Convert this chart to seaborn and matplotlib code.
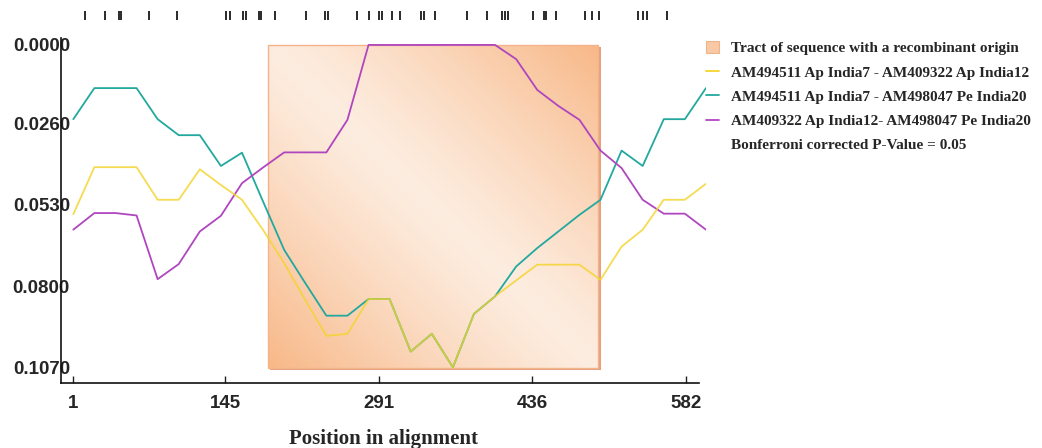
import numpy as np
import pandas as pd
import matplotlib
matplotlib.use("Agg")
import matplotlib.pyplot as plt
import seaborn as sns
from matplotlib.patches import Rectangle, Patch
from matplotlib.lines import Line2D

sns.set_style("ticks")
plt.rcParams['font.family'] = ['Liberation Sans', 'DejaVu Sans']

# window centres along the alignment
positions = [1, 21, 41, 61, 81, 101, 121, 141, 161, 181, 201, 221, 241, 261, 281, 301,
             321, 341, 361, 381, 401, 421, 441, 461, 481, 501, 521, 541, 561, 581, 601]

# pairwise distances for the three sequence pairs
pair_a = [0.0561, 0.0405, 0.0405, 0.0405, 0.0513, 0.0513, 0.0412, 0.0464, 0.0513, 0.0613,
          0.0723, 0.0845, 0.0964, 0.0957, 0.0842, 0.0842, 0.1016, 0.0957, 0.1068, 0.0891,
          0.0833, 0.0780, 0.0728, 0.0728, 0.0728, 0.0778, 0.0668, 0.0612, 0.0513, 0.0513, 0.0460]
pair_b = [0.0246, 0.0143, 0.0143, 0.0143, 0.0246, 0.0299, 0.0299, 0.0401, 0.0357, 0.0519,
          0.0679, 0.0789, 0.0897, 0.0897, 0.0842, 0.0842, 0.1016, 0.0957, 0.1068, 0.0891,
          0.0833, 0.0734, 0.0673, 0.0618, 0.0563, 0.0513, 0.0350, 0.0401, 0.0246, 0.0246, 0.0143]
pair_c = [0.0612, 0.0557, 0.0557, 0.0565, 0.0776, 0.0726, 0.0618, 0.0566, 0.0458, 0.0406,
          0.0356, 0.0356, 0.0356, 0.0248, 0.0000, 0.0000, 0.0000, 0.0000, 0.0000, 0.0000,
          0.0000, 0.0047, 0.0149, 0.0202, 0.0248, 0.0350, 0.0408, 0.0513, 0.0559, 0.0559, 0.0612]

labels = ['AM494511 Ap India7 - AM409322 Ap India12',
          'AM494511 Ap India7 - AM498047 Pe India20',
          'AM409322 Ap India12- AM498047 Pe India20']
colors = ['#f4d42c', '#22a89e', '#b046bf']

# informative sites shown along the top
sites = [12, 31, 44, 46, 73, 99, 146, 150, 162, 165, 177, 179, 192, 222, 240, 243, 270, 281,
         291, 294, 303, 311, 331, 334, 344, 374, 393, 408, 410, 413, 437, 447, 449, 459,
         486, 493, 500, 537, 541, 545, 564]

x_ticks = [1, 145, 291, 436, 582]
y_ticks = [0.0, 0.026, 0.053, 0.080, 0.107]
y_ticklabels = ['0.0000', '0.0260', '0.0530', '0.0800', '0.1070']

tract = (186, 499)   # recombinant region

df = pd.DataFrame({
    'pos': positions * 3,
    'dist': pair_a + pair_b + pair_c,
    'pair': [labels[0]] * len(positions) + [labels[1]] * len(positions) + [labels[2]] * len(positions),
})

fig = plt.figure(figsize=(10.42, 4.48), dpi=100)
ax = fig.add_axes([0.0585, 0.1451, 0.619, 0.7701])
xlim = (-10.7, 601)
ylim = (0.112, -0.0023)

# shaded recombinant tract with a diagonal gradient
n = 200
u = np.linspace(0, 1, n)[None, :]
v = np.linspace(1, 0, n)[:, None]
t = np.abs(u + v - 1) ** 1.2
light = np.array([253, 237, 224]) / 255
dark = np.array([248, 184, 136]) / 255
img = light[None, None, :] + t[:, :, None] * (dark - light)[None, None, :]
ax.add_patch(Rectangle((tract[0] + 2.0, 0.0007), tract[1] - tract[0], 0.107,
                       facecolor='#e6a07e', edgecolor='none', zorder=0.5))
ax.imshow(img, extent=(tract[0], tract[1], 0.107, 0.0), origin='upper',
          aspect='auto', zorder=1)
ax.add_patch(Rectangle((tract[0], 0.0), tract[1] - tract[0], 0.107,
                       facecolor='none', edgecolor='#f3b48c', lw=1.0, zorder=1.2))

sns.lineplot(data=df, x='pos', y='dist', hue='pair',
             hue_order=[labels[1], labels[2], labels[0]],
             palette={labels[0]: colors[0], labels[1]: colors[1], labels[2]: colors[2]},
             linewidth=1.3, legend=False, ax=ax, zorder=3)
for ln in ax.lines:
    if np.allclose(ln.get_ydata(), pair_a):
        ln.set_alpha(0.82)

ax.set_xlim(*xlim)
ax.set_ylim(*ylim)
ax.set_xticks(x_ticks)
ax.set_xticklabels([str(x) for x in x_ticks], fontsize=13.5, fontweight='bold')
ax.set_yticks(y_ticks)
ax.set_yticklabels(y_ticklabels, fontsize=13.5, fontweight='bold')
ax.tick_params(axis='x', direction='in', length=5, width=1, pad=9, color='#222222')
ax.tick_params(axis='y', length=0, pad=-6.5)
for side in ['top', 'right']:
    ax.spines[side].set_visible(False)
for side in ['left', 'bottom']:
    ax.spines[side].set_linewidth(1.2)
    ax.spines[side].set_color('#111111')
ax.spines['bottom'].set_bounds(xlim[0], 594)
ax.set_xlabel('Position in alignment', fontsize=15, fontweight='bold',
              family=['Liberation Serif', 'DejaVu Serif'], labelpad=12)
ax.set_ylabel('')

# rug of informative sites above the plot
ax_rug = fig.add_axes([0.0585, 0.955, 0.619, 0.021])
sns.rugplot(x=sites, height=1, ax=ax_rug, color='#2a2a2a', linewidth=1.4)
ax_rug.set_xlim(*xlim)
ax_rug.set_ylim(0, 1)
ax_rug.axis('off')

handles = [Patch(facecolor='#f8c9a4', edgecolor='#eeb48e', lw=0.8),
           Line2D([], [], color=colors[0], lw=1.3),
           Line2D([], [], color=colors[1], lw=1.3),
           Line2D([], [], color=colors[2], lw=1.3),
           Line2D([], [], color='none')]
leg_labels = ['Tract of sequence with a recombinant origin'] + labels + \
             ['Bonferroni corrected P-Value = 0.05']
fig.legend(handles, leg_labels, loc='upper left', bbox_to_anchor=(0.678, 0.908),
           frameon=False, handlelength=0.85, handleheight=0.8, handletextpad=0.75,
           labelspacing=0.66, borderpad=0, borderaxespad=0,
           prop={'family': ['Liberation Serif', 'DejaVu Serif'], 'weight': 'bold', 'size': 11})

fig.savefig('out.png', dpi=100)
